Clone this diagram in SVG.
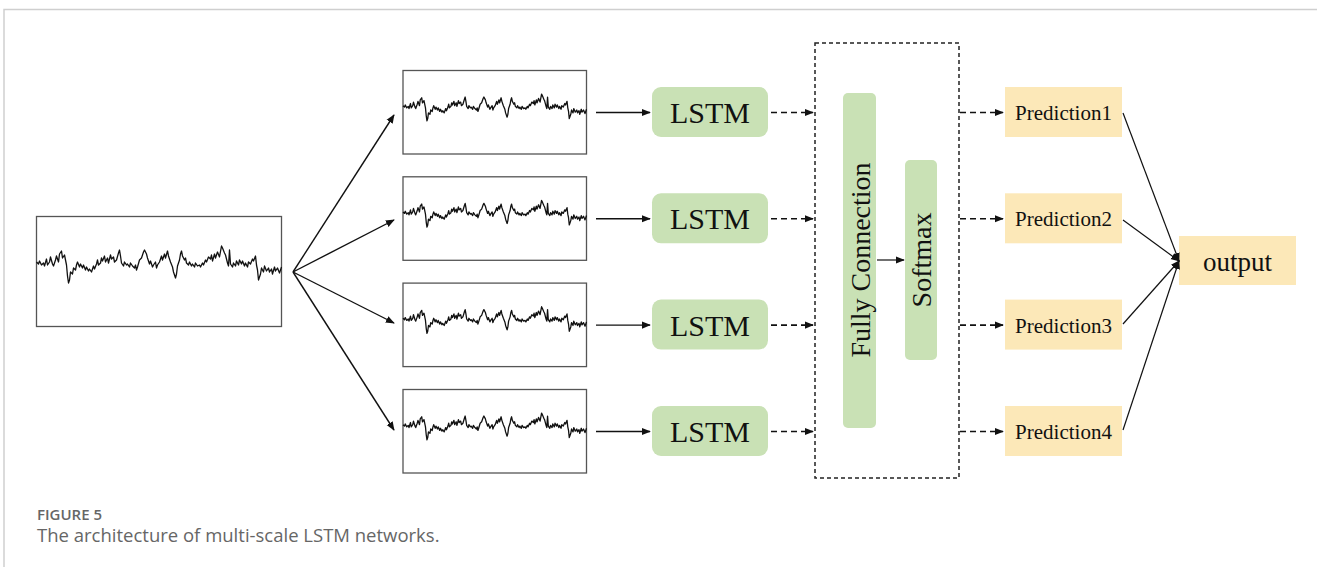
<svg xmlns="http://www.w3.org/2000/svg" xmlns:xlink="http://www.w3.org/1999/xlink" width="1317" height="567" viewBox="0 0 1317 567">
<style>
.frame{fill:none;stroke:#cfcfcf;stroke-width:1.5}
.sigbox{fill:#fff;stroke:#555;stroke-width:1.3}
.sig{fill:none;stroke:#111;stroke-width:1.3;stroke-linejoin:round;vector-effect:non-scaling-stroke}
.green{fill:#c9e1b5}
.yellow{fill:#fce8b8}
.serif{font-family:"Liberation Serif","Times New Roman",serif;fill:#111}
.solid{fill:none;stroke:#111;stroke-width:1.4}
.thin{fill:none;stroke:#111;stroke-width:1.2}
.dash{fill:none;stroke:#111;stroke-width:1.6;stroke-dasharray:6 4}
.dbox{fill:none;stroke:#222;stroke-width:1.5;stroke-dasharray:4 3}
.cap{font-family:"Open Sans","Liberation Sans",sans-serif;fill:#666}
</style>
<defs>
<marker id="ah" viewBox="0 0 10 10" refX="9" refY="5" markerWidth="9" markerHeight="9" markerUnits="userSpaceOnUse" orient="auto">
<path d="M0,1 L10,5 L0,9 Z" fill="#111"/>
</marker>
<path id="sig" class="sig" d="M0,-6 L2,-4 3,-7 5,-3 7,-5 8,-2 10,-9 11,-3 13,-6 14,-11 16,-4 17,-2 19,-8 20,-12 22,-6 23,-14 25,-17 26,-10 28,-13 30,-3 31,8 32,15 33,12 34,4 36,6 37,0 39,2 40,-3 41,-6 43,-1 44,-4 46,0 47,-3 49,2 50,-1 52,3 53,1 55,4 57,-2 58,1 60,-4 61,-8 62,-3 64,-5 65,-10 66,-7 68,-12 69,-6 71,-10 72,-5 74,-13 75,-9 77,-11 78,-6 80,-8 82,-15 83,-18 84,-12 85,-5 87,-2 88,-6 90,-3 91,-4 93,-1 94,-5 96,-2 98,0 99,-3 100,2 101,-1 103,-8 105,-10 107,-16 108,-18 110,-14 111,-10 113,-4 114,-7 116,-1 117,-3 119,-6 120,0 121,-3 123,-6 125,-12 126,-8 128,-14 129,-10 131,-17 132,-12 134,-6 136,-1 137,4 139,10 140,6 141,-2 143,-8 144,-14 145,-17 146,-12 148,-8 149,-10 150,-5 152,-3 153,-6 155,-2 156,-4 158,-1 159,-5 161,-2 163,-3 164,-1 166,-5 167,-3 169,-8 170,-6 172,-11 174,-9 175,-13 176,-7 178,-14 179,-10 181,-16 183,-11 185,-22 186,-20 188,-15 189,-13 191,-5 192,-2 193,-18 194,-4 196,-1 197,-5 199,-2 200,-7 202,-3 203,-8 205,-4 206,-7 208,-2 209,-5 211,-1 212,-6 214,-4 216,-9 217,-7 219,-12 220,-3 221,2 222,12 224,6 225,0 227,4 228,-2 230,3 232,0 233,4 235,1 236,6 238,-1 239,3 241,0 243,5 245,-1"/>
</defs>

<path class="frame" d="M4,567 L4,9.5 L1317,9.5"/>

<g id="input">
<rect class="sigbox" x="36.5" y="216.5" width="245" height="110"/>
<use xlink:href="#sig" transform="translate(36.5,268)"/>
</g>

<g id="scale1">
<rect class="sigbox" x="403" y="70.5" width="183.5" height="83.5"/>
<use xlink:href="#sig" transform="translate(403,110) scale(0.749,0.72)"/>
</g>
<g id="scale2">
<rect class="sigbox" x="403" y="176.8" width="183.5" height="83.5"/>
<use xlink:href="#sig" transform="translate(403,216.3) scale(0.749,0.72)"/>
</g>
<g id="scale3">
<rect class="sigbox" x="403" y="283.1" width="183.5" height="83.5"/>
<use xlink:href="#sig" transform="translate(403,322.6) scale(0.749,0.72)"/>
</g>
<g id="scale4">
<rect class="sigbox" x="403" y="389.5" width="183.5" height="83.5"/>
<use xlink:href="#sig" transform="translate(403,429) scale(0.749,0.72)"/>
</g>

<g id="lstm1"><rect class="green" x="652" y="87" width="116" height="50" rx="9"/><text class="serif" x="710" y="123" font-size="30" text-anchor="middle">LSTM</text></g>
<g id="lstm2"><rect class="green" x="652" y="193.3" width="116" height="50" rx="9"/><text class="serif" x="710" y="229.3" font-size="30" text-anchor="middle">LSTM</text></g>
<g id="lstm3"><rect class="green" x="652" y="299.6" width="116" height="50" rx="9"/><text class="serif" x="710" y="335.6" font-size="30" text-anchor="middle">LSTM</text></g>
<g id="lstm4"><rect class="green" x="652" y="406" width="116" height="50" rx="9"/><text class="serif" x="710" y="442" font-size="30" text-anchor="middle">LSTM</text></g>

<g id="combiner">
<rect class="dbox" x="815" y="43" width="144" height="435"/>
</g>
<g id="fc">
<rect class="green" x="843" y="93" width="33" height="335" rx="5"/>
<text class="serif" transform="translate(869.5,260) rotate(-90)" font-size="28" text-anchor="middle">Fully Connection</text>
</g>
<g id="softmax">
<rect class="green" x="905" y="160" width="32" height="200" rx="5"/>
<text class="serif" transform="translate(931,260) rotate(-90)" font-size="28" text-anchor="middle">Softmax</text>
</g>

<g id="pred1"><rect class="yellow" x="1005" y="87" width="117" height="50"/><text class="serif" x="1063.5" y="120" font-size="21" text-anchor="middle">Prediction1</text></g>
<g id="pred2"><rect class="yellow" x="1005" y="193.3" width="117" height="50"/><text class="serif" x="1063.5" y="226.3" font-size="21" text-anchor="middle">Prediction2</text></g>
<g id="pred3"><rect class="yellow" x="1005" y="299.6" width="117" height="50"/><text class="serif" x="1063.5" y="332.6" font-size="21" text-anchor="middle">Prediction3</text></g>
<g id="pred4"><rect class="yellow" x="1005" y="406" width="117" height="50"/><text class="serif" x="1063.5" y="439" font-size="21" text-anchor="middle">Prediction4</text></g>

<g id="output"><rect class="yellow" x="1179" y="236" width="117" height="49"/><text class="serif" x="1237.5" y="271" font-size="27" text-anchor="middle">output</text></g>

<g id="connectors">
<line class="solid" x1="293" y1="272" x2="394" y2="115" marker-end="url(#ah)"/>
<line class="solid" x1="293" y1="272" x2="394" y2="220" marker-end="url(#ah)"/>
<line class="solid" x1="293" y1="272" x2="394" y2="323" marker-end="url(#ah)"/>
<line class="solid" x1="293" y1="272" x2="394" y2="430" marker-end="url(#ah)"/>

<line class="solid" x1="596" y1="112.5" x2="650" y2="112.5" marker-end="url(#ah)"/>
<line class="solid" x1="596" y1="218.8" x2="650" y2="218.8" marker-end="url(#ah)"/>
<line class="solid" x1="596" y1="325.1" x2="650" y2="325.1" marker-end="url(#ah)"/>
<line class="solid" x1="596" y1="431.5" x2="650" y2="431.5" marker-end="url(#ah)"/>

<line class="dash" x1="771" y1="112.5" x2="813" y2="112.5" marker-end="url(#ah)"/>
<line class="dash" x1="771" y1="218.8" x2="813" y2="218.8" marker-end="url(#ah)"/>
<line class="dash" x1="771" y1="325.1" x2="813" y2="325.1" marker-end="url(#ah)"/>
<line class="dash" x1="771" y1="431.5" x2="813" y2="431.5" marker-end="url(#ah)"/>

<line class="thin" x1="877" y1="260" x2="904" y2="260" marker-end="url(#ah)"/>

<line class="dash" x1="960" y1="112.5" x2="1003" y2="112.5" marker-end="url(#ah)"/>
<line class="dash" x1="960" y1="218.8" x2="1003" y2="218.8" marker-end="url(#ah)"/>
<line class="dash" x1="960" y1="325.1" x2="1003" y2="325.1" marker-end="url(#ah)"/>
<line class="dash" x1="960" y1="431.5" x2="1003" y2="431.5" marker-end="url(#ah)"/>

<line class="thin" x1="1123" y1="113" x2="1179" y2="261" marker-end="url(#ah)"/>
<line class="thin" x1="1123" y1="220" x2="1179" y2="261" marker-end="url(#ah)"/>
<line class="thin" x1="1123" y1="324" x2="1179" y2="261" marker-end="url(#ah)"/>
<line class="thin" x1="1123" y1="430" x2="1179" y2="261" marker-end="url(#ah)"/>
</g>

<g id="caption">
<text class="cap" x="37" y="520" font-size="15" font-weight="600">FIGURE 5</text>
<text class="cap" x="37" y="542" font-size="18.5">The architecture of multi-scale LSTM networks.</text>
</g>
</svg>
